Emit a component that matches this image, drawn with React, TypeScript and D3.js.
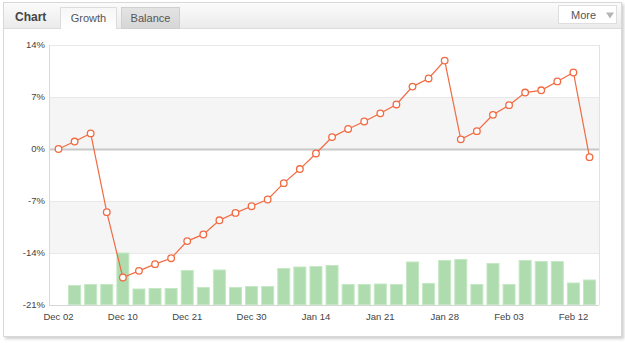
import React, { useRef, useEffect } from 'react';
import * as d3 from 'd3';

// trading days shown on the x axis (every 4th is labelled)
const dates = [
  'Dec 02', 'Dec 03', 'Dec 04', 'Dec 05', 'Dec 10', 'Dec 11', 'Dec 12', 'Dec 17',
  'Dec 21', 'Dec 24', 'Dec 26', 'Dec 27', 'Dec 30', 'Jan 02', 'Jan 06', 'Jan 09',
  'Jan 14', 'Jan 15', 'Jan 16', 'Jan 17', 'Jan 21', 'Jan 22', 'Jan 23', 'Jan 24',
  'Jan 28', 'Jan 29', 'Jan 30', 'Jan 31', 'Feb 03', 'Feb 04', 'Feb 06', 'Feb 10',
  'Feb 12', 'Feb 13',
];

// growth, %
const growth = [
  0, 1.0, 2.1, -8.5, -17.3, -16.4, -15.5, -14.7, -12.4, -11.5, -9.6, -8.6,
  -7.7, -6.8, -4.6, -2.7, -0.6, 1.6, 2.7, 3.7, 4.8, 6.0, 8.4, 9.5, 11.9,
  1.3, 2.4, 4.6, 5.9, 7.6, 7.9, 9.1, 10.3, -1.1,
];

// daily volume (lots), none on the first day
const volume = [
  0, 2.0, 2.1, 2.1, 5.25, 1.65, 1.7, 1.7, 3.5, 1.8, 3.55, 1.8, 1.9, 1.9, 3.7,
  3.85, 3.9, 4.0, 2.1, 2.1, 2.15, 2.1, 4.35, 2.2, 4.5, 4.6, 2.1, 4.2, 2.1,
  4.5, 4.4, 4.4, 2.25, 2.55,
];

const yTicks = [14, 7, 0, -7, -14, -21];
const bands: [number, number][] = [[7, 0], [-7, -14]];

const W = 625;
const H = 343;
const FONT = '"Liberation Sans", Arial, sans-serif';

const App: React.FC = () => {
  const svgRef = useRef<SVGSVGElement>(null);

  useEffect(() => {
    if (!svgRef.current) return;
    const svg = d3.select(svgRef.current);
    svg.selectAll('*').remove();

    const plot = { left: 49, right: 599, top: 45, bottom: 305 };

    const x = d3.scalePoint<string>()
      .domain(dates)
      .range([plot.left, plot.right])
      .padding(0.59);

    const y = d3.scaleLinear().domain([-21, 14]).range([plot.bottom, plot.top]);
    const yVol = d3.scaleLinear().domain([0, 26]).range([plot.bottom, plot.top]);

    const defs = svg.append('defs');
    const hdr = defs.append('linearGradient').attr('id', 'hdr').attr('x2', 0).attr('y2', 1);
    hdr.append('stop').attr('offset', 0).attr('stop-color', '#fbfbfb');
    hdr.append('stop').attr('offset', 1).attr('stop-color', '#ebebeb');
    const tabOn = defs.append('linearGradient').attr('id', 'tabOn').attr('x2', 0).attr('y2', 1);
    tabOn.append('stop').attr('offset', 0).attr('stop-color', '#f6f6f6');
    tabOn.append('stop').attr('offset', 1).attr('stop-color', '#ffffff');
    const tabOff = defs.append('linearGradient').attr('id', 'tabOff').attr('x2', 0).attr('y2', 1);
    tabOff.append('stop').attr('offset', 0).attr('stop-color', '#e4e4e4');
    tabOff.append('stop').attr('offset', 1).attr('stop-color', '#d6d6d6');
    const shadow = defs.append('filter').attr('id', 'sh').attr('x', -0.05).attr('y', -0.05)
      .attr('width', 1.1).attr('height', 1.1);
    shadow.append('feGaussianBlur').attr('stdDeviation', 1.5);

    // panel
    svg.append('rect').attr('x', 5).attr('y', 4).attr('width', 619).attr('height', 335)
      .attr('fill', '#cfcfcf').attr('filter', 'url(#sh)');
    svg.append('rect').attr('x', 3.5).attr('y', 2.5).attr('width', 618).attr('height', 334)
      .attr('fill', '#fff').attr('stroke', '#d8d8d8');

    // header
    svg.append('rect').attr('x', 4).attr('y', 3).attr('width', 617).attr('height', 25)
      .attr('fill', 'url(#hdr)');
    svg.append('line').attr('x1', 4).attr('x2', 621).attr('y1', 28.5).attr('y2', 28.5)
      .attr('stroke', '#dcdcdc');

    svg.append('text').attr('x', 15).attr('y', 21).text('Chart')
      .attr('font-family', FONT).attr('font-size', 12).attr('font-weight', 'bold')
      .attr('fill', '#444');

    svg.append('path').attr('d', 'M60.5,29 V7.5 H116.5 V29')
      .attr('fill', 'url(#tabOn)').attr('stroke', '#dcdcdc');
    svg.append('rect').attr('x', 61).attr('y', 28).attr('width', 55).attr('height', 2).attr('fill', '#fff');
    svg.append('text').attr('x', 88.5).attr('y', 22).attr('text-anchor', 'middle').text('Growth')
      .attr('font-family', FONT).attr('font-size', 11).attr('fill', '#555');

    svg.append('rect').attr('x', 121.5).attr('y', 7.5).attr('width', 58).attr('height', 21)
      .attr('fill', 'url(#tabOff)').attr('stroke', '#d0d0d0');
    svg.append('text').attr('x', 150.5).attr('y', 22).attr('text-anchor', 'middle').text('Balance')
      .attr('font-family', FONT).attr('font-size', 11).attr('fill', '#555');

    svg.append('rect').attr('x', 558.5).attr('y', 5.5).attr('width', 58).attr('height', 18)
      .attr('fill', '#fff').attr('stroke', '#dedede');
    svg.append('text').attr('x', 571).attr('y', 19).text('More')
      .attr('font-family', FONT).attr('font-size', 11).attr('fill', '#555');
    svg.append('path').attr('d', 'M606,12.5 L614,12.5 L610,18.5 Z').attr('fill', '#b5b5b5');

    // bands and grid
    const g = svg.append('g');
    bands.forEach(([a, b]) => {
      g.append('rect').attr('x', plot.left).attr('y', y(a))
        .attr('width', plot.right - plot.left).attr('height', y(b) - y(a))
        .attr('fill', '#f5f5f5');
    });
    yTicks.forEach(t => {
      g.append('line')
        .attr('x1', plot.left).attr('x2', plot.right)
        .attr('y1', Math.round(y(t)) + 0.5).attr('y2', Math.round(y(t)) + 0.5)
        .attr('stroke', t === 0 ? '#c8c8c8' : t === -21 ? '#d6d6d6' : '#e8e8e8')
        .attr('stroke-width', t === 0 ? 2 : 1);
    });
    g.append('line').attr('x1', plot.left + 0.5).attr('x2', plot.left + 0.5)
      .attr('y1', plot.top).attr('y2', plot.bottom).attr('stroke', '#dadada');
    g.append('line').attr('x1', plot.right + 0.5).attr('x2', plot.right + 0.5)
      .attr('y1', plot.top).attr('y2', plot.bottom).attr('stroke', '#e2e2e2');

    // y labels
    yTicks.forEach(t => {
      g.append('text').attr('x', 45).attr('y', y(t)).attr('dy', '0.35em')
        .attr('text-anchor', 'end').text(`${t}%`)
        .attr('font-family', FONT).attr('font-size', 9.5).attr('fill', '#444');
    });

    // x labels
    dates.forEach((d, i) => {
      if (i % 4 !== 0) return;
      g.append('text').attr('x', x(d)!).attr('y', 320).attr('text-anchor', 'middle').text(d)
        .attr('font-family', FONT).attr('font-size', 9.5).attr('fill', '#444');
    });

    // volume bars
    const bw = 13;
    g.selectAll('rect.bar')
      .data(volume.map((v, i) => ({ d: dates[i], v })).filter(o => o.v > 0))
      .enter().append('rect')
      .attr('class', 'bar')
      .attr('x', o => x(o.d)! - bw / 2 + 0.5)
      .attr('y', o => yVol(o.v) + 0.5)
      .attr('width', bw - 1)
      .attr('height', o => plot.bottom - yVol(o.v) - 1)
      .attr('fill', '#aedcae')
      .attr('stroke', '#c4e8c4');

    // growth line
    const line = d3.line<number>()
      .x((_, i) => x(dates[i])!)
      .y(v => y(v));
    g.append('path').datum(growth)
      .attr('fill', 'none').attr('stroke', '#f26a42').attr('stroke-width', 1.2)
      .attr('d', line);
    g.selectAll('circle.pt').data(growth).enter().append('circle')
      .attr('class', 'pt')
      .attr('cx', (_, i) => x(dates[i])!)
      .attr('cy', v => y(v))
      .attr('r', 3.3)
      .attr('fill', '#fff')
      .attr('stroke', '#f26a42')
      .attr('stroke-width', 1.3);
  }, []);

  return (
    <svg ref={svgRef} width={W} height={H}
      style={{ position: 'absolute', left: 0, top: 0, display: 'block' }} />
  );
};

export default App;
